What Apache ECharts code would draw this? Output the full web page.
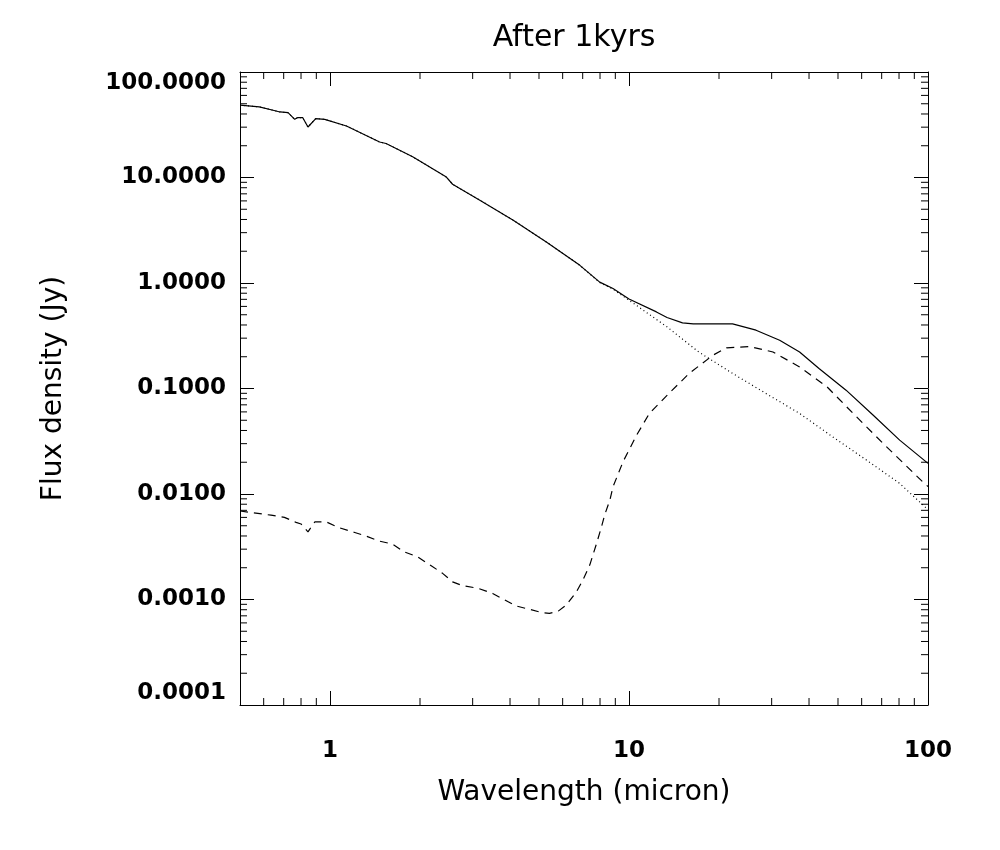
<!DOCTYPE html>
<html>
<head>
<meta charset="utf-8">
<title>After 1kyrs</title>
<script src="https://cdn.jsdelivr.net/npm/echarts@6/dist/echarts.min.js"></script>
<style>
  html, body { margin: 0; padding: 0; background: #fff; }
  #chart { width: 1000px; height: 850px; }
</style>
</head>
<body>
<div id="chart"></div>
<script>
// wavelength (micron) and flux density (Jy)
var totalWave = [0.5, 0.58, 0.645, 0.68, 0.724, 0.762, 0.78, 0.81, 0.844, 0.896, 0.96, 1.135, 1.465, 1.54, 1.89, 2.45, 2.57, 3.17, 4.1, 5.29, 6.85, 7.98, 8.84, 10.0, 12.35, 13.4, 15.1, 16.4, 22.2, 26.6, 31.9, 37.2, 43.2, 53.2, 65.6, 80.4, 100];
var totalFlux = [48.5, 46.7, 43.4, 41.8, 41.2, 35.6, 37.0, 37.0, 30.1, 36.2, 35.6, 30.8, 21.7, 21.0, 15.7, 10.1, 8.63, 6.1, 3.94, 2.45, 1.47, 1.02, 0.887, 0.705, 0.532, 0.471, 0.419, 0.41, 0.41, 0.357, 0.287, 0.222, 0.155, 0.0964, 0.0558, 0.0324, 0.0195];

var starWave = [0.5, 0.58, 0.645, 0.68, 0.724, 0.762, 0.78, 0.81, 0.844, 0.896, 0.96, 1.135, 1.465, 1.54, 1.89, 2.45, 2.57, 3.17, 4.1, 5.29, 6.85, 7.98, 8.84, 10.0, 13.4, 17.1, 22.2, 28.7, 37.2, 48.0, 62.2, 80.4, 100];
var starFlux = [48.5, 46.7, 43.4, 41.8, 41.2, 35.6, 37.0, 37.0, 30.1, 36.2, 35.6, 30.8, 21.7, 21.0, 15.7, 10.1, 8.63, 6.1, 3.94, 2.45, 1.47, 1.01, 0.875, 0.687, 0.384, 0.222, 0.139, 0.0898, 0.058, 0.0348, 0.021, 0.0126, 0.0071];

var dustWave = [0.5, 0.635, 0.704, 0.77, 0.8, 0.844, 0.89, 0.97, 1.075, 1.21, 1.32, 1.46, 1.62, 1.77, 1.96, 2.18, 2.38, 2.57, 2.78, 3.12, 3.5, 3.84, 4.2, 4.65, 5.15, 5.42, 5.8, 6.17, 6.67, 7.01, 7.39, 7.79, 8.09, 8.3, 8.63, 8.84, 9.55, 10.6, 11.7, 13.6, 15.9, 19.1, 21.2, 25.3, 30.3, 37.2, 45.9, 56.2, 70.8, 97.2, 100];
var dustFlux = [0.0069, 0.0063, 0.006, 0.00538, 0.0052, 0.00438, 0.00545, 0.00545, 0.00478, 0.00432, 0.00399, 0.00358, 0.00335, 0.00283, 0.00254, 0.00209, 0.00177, 0.00147, 0.00135, 0.00128, 0.00114, 0.00099, 0.000867, 0.000807, 0.000748, 0.00074, 0.000776, 0.000885, 0.00118, 0.00153, 0.00212, 0.0034, 0.00489, 0.0064, 0.00875, 0.0117, 0.0202, 0.0361, 0.058, 0.0898, 0.139, 0.207, 0.243, 0.25, 0.222, 0.16, 0.104, 0.058, 0.0301, 0.0126, 0.0118];

// axis ranges and minor tick positions
var xMin = 0.5, xMax = 100;
var yMin = 0.0001, yMax = 100;
var xMinorTicks = [0.6, 0.7, 0.8, 0.9, 2, 3, 4, 5, 6, 7, 8, 9, 20, 30, 40, 50, 60, 70, 80, 90];
var yDecades = [0.0001, 0.001, 0.01, 0.1, 1, 10];
var yMultipliers = [2, 3, 4, 5, 6, 7, 8, 9];

var yMinorTicks = [];
yDecades.forEach(function (d) {
  yMultipliers.forEach(function (m) { yMinorTicks.push(+(d * m).toPrecision(3)); });
});

function pairs(xs, ys) {
  return xs.map(function (x, i) { return [x, ys[i]]; });
}

var FONT = 'DejaVu Sans';
var MINOR = 7;

function tickLine(x1, y1, x2, y2) {
  return {
    type: 'line',
    shape: { x1: x1, y1: y1, x2: x2, y2: y2 },
    style: { stroke: '#000', lineWidth: 1 }
  };
}

var chart = echarts.init(document.getElementById('chart'));

var axisCommon = {
  type: 'log',
  logBase: 10,
  axisLine: { show: true, lineStyle: { color: '#000', width: 1 } },
  axisTick: { show: true, inside: true, length: 14, lineStyle: { color: '#000', width: 1 } },
  splitLine: { show: false },
  minorTick: { show: false }
};

var option = {
  backgroundColor: '#fff',
  animation: false,
  title: {
    text: 'After 1kyrs',
    left: 569,
    top: 18,
    textAlign: 'center',
    textStyle: { fontFamily: FONT, fontSize: 30, fontWeight: 'normal', color: '#000' }
  },
  grid: { left: 240, right: 72, top: 72, bottom: 145 },
  xAxis: [
    Object.assign({}, axisCommon, {
      position: 'bottom',
      min: xMin,
      max: xMax,
      name: 'Wavelength (micron)',
      nameLocation: 'middle',
      nameGap: 74,
      nameTextStyle: { fontFamily: FONT, fontSize: 28, color: '#000' },
      axisLabel: {
        show: true,
        margin: 35,
        showMinLabel: false,
        fontFamily: FONT,
        fontSize: 23,
        fontWeight: 'bold',
        color: '#000',
        formatter: function (v) { return String(Math.round(v)); }
      }
    }),
    Object.assign({}, axisCommon, {
      position: 'top',
      min: xMin,
      max: xMax,
      axisLabel: { show: false }
    })
  ],
  yAxis: [
    Object.assign({}, axisCommon, {
      position: 'left',
      min: yMin,
      max: yMax,
      name: 'Flux density (Jy)',
      nameLocation: 'middle',
      nameGap: 172,
      nameRotate: 90,
      nameTextStyle: { fontFamily: FONT, fontSize: 28, color: '#000' },
      axisLabel: {
        show: true,
        margin: 14,
        fontFamily: FONT,
        fontSize: 23,
        fontWeight: 'bold',
        color: '#000',
        verticalAlignMaxLabel: 'top',
        verticalAlignMinLabel: 'bottom',
        formatter: function (v) { return v.toFixed(4); }
      }
    }),
    Object.assign({}, axisCommon, {
      position: 'right',
      min: yMin,
      max: yMax,
      axisLabel: { show: false }
    })
  ],
  series: [
    {
      name: 'total',
      type: 'line',
      data: pairs(totalWave, totalFlux),
      showSymbol: false,
      symbol: 'none',
      lineStyle: { color: '#000', width: 1.2, type: 'solid' },
      z: 3
    },
    {
      name: 'dust',
      type: 'line',
      data: pairs(dustWave, dustFlux),
      showSymbol: false,
      symbol: 'none',
      lineStyle: { color: '#000', width: 1.2, type: [8, 6] },
      z: 2
    },
    {
      name: 'star',
      type: 'line',
      data: pairs(starWave, starFlux),
      showSymbol: false,
      symbol: 'none',
      lineStyle: { color: '#000', width: 1.2, type: [1, 3] },
      z: 2
    },
    {
      // minor ticks on bottom and top x axes
      type: 'custom',
      silent: true,
      data: xMinorTicks.map(function (v) { return [v, yMin]; }),
      encode: { x: 0, y: 1 },
      renderItem: function (params, api) {
        var b = api.coord([api.value(0), yMin]);
        var t = api.coord([api.value(0), yMax]);
        return {
          type: 'group',
          children: [
            tickLine(b[0], b[1], b[0], b[1] - MINOR),
            tickLine(t[0], t[1], t[0], t[1] + MINOR)
          ]
        };
      },
      z: 5
    },
    {
      // minor ticks on left and right y axes
      type: 'custom',
      silent: true,
      data: yMinorTicks.map(function (v) { return [xMin, v]; }),
      encode: { x: 0, y: 1 },
      renderItem: function (params, api) {
        var l = api.coord([xMin, api.value(1)]);
        var r = api.coord([xMax, api.value(1)]);
        return {
          type: 'group',
          children: [
            tickLine(l[0], l[1], l[0] + MINOR, l[1]),
            tickLine(r[0], r[1], r[0] - MINOR, r[1])
          ]
        };
      },
      z: 5
    }
  ]
};

chart.setOption(option);
</script>
</body>
</html>
